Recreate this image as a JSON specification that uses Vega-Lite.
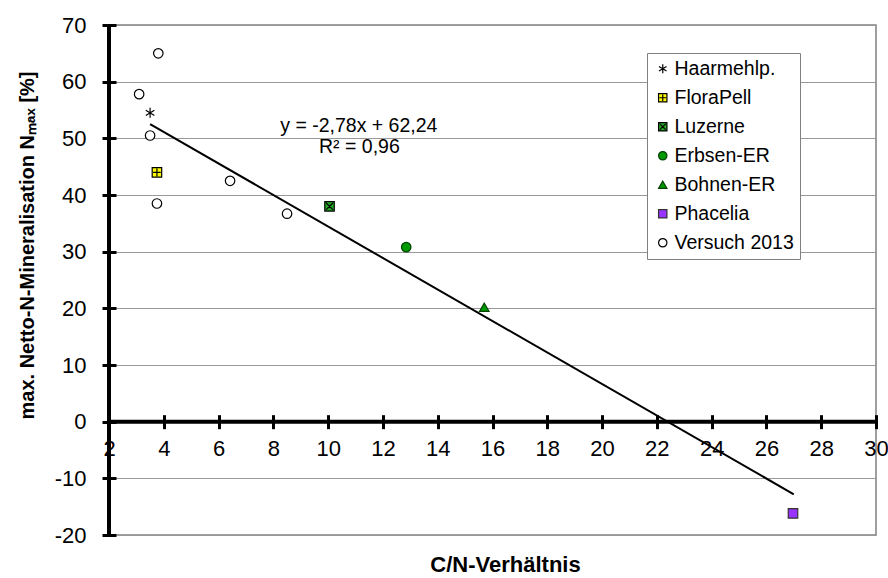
{
  "$schema": "https://vega.github.io/schema/vega-lite/v6.json",
  "width": 767,
  "height": 510,
  "autosize": {"type": "none"},
  "padding": {"left": 109, "top": 25, "right": 12, "bottom": 43},
  "background": "white",
  "config": {
    "font": "Liberation Sans",
    "view": {"stroke": "#808080", "strokeWidth": 1.5},
    "axis": {
      "labelFont": "Liberation Sans",
      "labelFontSize": 22,
      "labelColor": "black",
      "domainColor": "black",
      "tickColor": "black",
      "titleFont": "Liberation Sans",
      "titleColor": "black",
      "titleFontWeight": "bold",
      "labelFlush": false,
      "labelOverlap": false
    }
  },
  "layer": [
    {
      "data": {"values": [{"x": 2}]},
      "mark": {"type": "rule", "color": "black", "strokeWidth": 4},
      "encoding": {
        "x": {
          "field": "x", "type": "quantitative",
          "scale": {"domain": [2, 30], "nice": false, "zero": false},
          "axis": {
            "orient": "bottom", "offset": -120.33,
            "values": [2, 4, 6, 8, 10, 12, 14, 16, 18, 20, 22, 24, 26, 28, 30],
            "labelExpr": "'' + datum.value",
            "grid": false, "domain": false, "tickWidth": 3, "tickSize": 14,
            "labelPadding": 10,
            "title": "C/N-Verhältnis", "titleFontSize": 22,
            "titleX": 396, "titleY": 157, "titleBaseline": "alphabetic", "titleAlign": "center"
          }
        }
      }
    },
    {
      "data": {"values": [{"y": 0}]},
      "mark": {"type": "rule", "color": "black", "strokeWidth": 4},
      "encoding": {
        "y": {
          "field": "y", "type": "quantitative",
          "scale": {"domain": [-20, 70], "nice": false, "zero": false},
          "axis": {
            "orient": "left", "offset": -7,
            "values": [-20, -10, 0, 10, 20, 30, 40, 50, 60, 70],
            "labelExpr": "'' + datum.value",
            "grid": true, "gridColor": "#999999", "gridWidth": 1,
            "domain": false, "tickWidth": 3, "tickSize": 14, "labelPadding": 16,
            "title": "max. Netto-N-Mineralisation Nₘₐₓ [%]", "titleFontSize": 20,
            "titleAngle": 270, "titleX": -83, "titleY": 220,
            "titleBaseline": "alphabetic", "titleAlign": "center"
          }
        }
      }
    },
    {
      "data": {"values": [{"x": 3.5, "y": 52.51}, {"x": 27.0, "y": -12.82}]},
      "mark": {"type": "line", "color": "black", "strokeWidth": 2},
      "encoding": {
        "x": {"field": "x", "type": "quantitative"},
        "y": {"field": "y", "type": "quantitative"}
      }
    },
    {
      "data": {
        "values": [
          {"series": "Haarmehlp.", "x": 3.5, "y": 54.5},
          {"series": "FloraPell", "x": 3.75, "y": 44.0},
          {"series": "Luzerne", "x": 10.05, "y": 38.0},
          {"series": "Erbsen-ER", "x": 12.85, "y": 30.8},
          {"series": "Bohnen-ER", "x": 15.7, "y": 20.2},
          {"series": "Phacelia", "x": 26.97, "y": -16.2},
          {"series": "Versuch 2013", "x": 3.8, "y": 65.0},
          {"series": "Versuch 2013", "x": 3.1, "y": 57.8},
          {"series": "Versuch 2013", "x": 3.5, "y": 50.5},
          {"series": "Versuch 2013", "x": 3.75, "y": 38.5},
          {"series": "Versuch 2013", "x": 6.42, "y": 42.5},
          {"series": "Versuch 2013", "x": 8.5, "y": 36.7}
        ]
      },
      "mark": {"type": "point", "size": 90, "strokeWidth": 1.2, "opacity": 1},
      "encoding": {
        "x": {"field": "x", "type": "quantitative"},
        "y": {"field": "y", "type": "quantitative"},
        "shape": {
          "field": "series", "type": "nominal",
          "scale": {
            "domain": ["Haarmehlp.", "FloraPell", "Luzerne", "Erbsen-ER", "Bohnen-ER", "Phacelia", "Versuch 2013"],
            "range": [
              "M-0.9,-0.55L0.9,0.55M-0.9,0.55L0.9,-0.55M0,-1.05L0,1.05",
              "M-1,-1H1V1H-1ZM-0.8,0H0.8M0,-0.8V0.8",
              "M-1,-1H1V1H-1ZM-0.7,-0.7L0.7,0.7M-0.7,0.7L0.7,-0.7",
              "circle", "triangle-up", "square", "circle"
            ]
          },
          "legend": {"title": null, "orient": "none", "legendX": 538, "legendY": 28, "fillColor": "white", "strokeColor": "#808080", "padding": 6, "labelFont": "Liberation Sans", "labelFontSize": 19.5, "labelColor": "black", "symbolSize": 70, "symbolStrokeWidth": 1.2, "labelOffset": 2, "rowPadding": 8, "cornerRadius": 0}
        },
        "fill": {
          "field": "series", "type": "nominal",
          "scale": {
            "domain": ["Haarmehlp.", "FloraPell", "Luzerne", "Erbsen-ER", "Bohnen-ER", "Phacelia", "Versuch 2013"],
            "range": ["transparent", "#FFFF00", "#22AA22", "#009900", "#009900", "#9933FF", "white"]
          },
          "legend": {"title": null, "orient": "none", "legendX": 538, "legendY": 28, "fillColor": "white", "strokeColor": "#808080", "padding": 6, "labelFont": "Liberation Sans", "labelFontSize": 19.5, "labelColor": "black", "symbolSize": 70, "symbolStrokeWidth": 1.2, "labelOffset": 2, "rowPadding": 8, "cornerRadius": 0}
        },
        "stroke": {
          "field": "series", "type": "nominal",
          "scale": {
            "domain": ["Haarmehlp.", "FloraPell", "Luzerne", "Erbsen-ER", "Bohnen-ER", "Phacelia", "Versuch 2013"],
            "range": ["black", "black", "black", "#004400", "#004400", "#333333", "black"]
          },
          "legend": {"title": null, "orient": "none", "legendX": 538, "legendY": 28, "fillColor": "white", "strokeColor": "#808080", "padding": 6, "labelFont": "Liberation Sans", "labelFontSize": 19.5, "labelColor": "black", "symbolSize": 70, "symbolStrokeWidth": 1.2, "labelOffset": 2, "rowPadding": 8, "cornerRadius": 0}
        }
      }
    },
    {
      "data": {
        "values": [
          {"x": 11.12, "y": 51.07, "label": "y = -2,78x + 62,24"},
          {"x": 11.14, "y": 47.36, "label": "R² = 0,96"}
        ]
      },
      "mark": {"type": "text", "font": "Liberation Sans", "fontSize": 19.5, "color": "black", "align": "center", "baseline": "alphabetic"},
      "encoding": {
        "x": {"field": "x", "type": "quantitative"},
        "y": {"field": "y", "type": "quantitative"},
        "text": {"field": "label", "type": "nominal"}
      }
    }
  ]
}
